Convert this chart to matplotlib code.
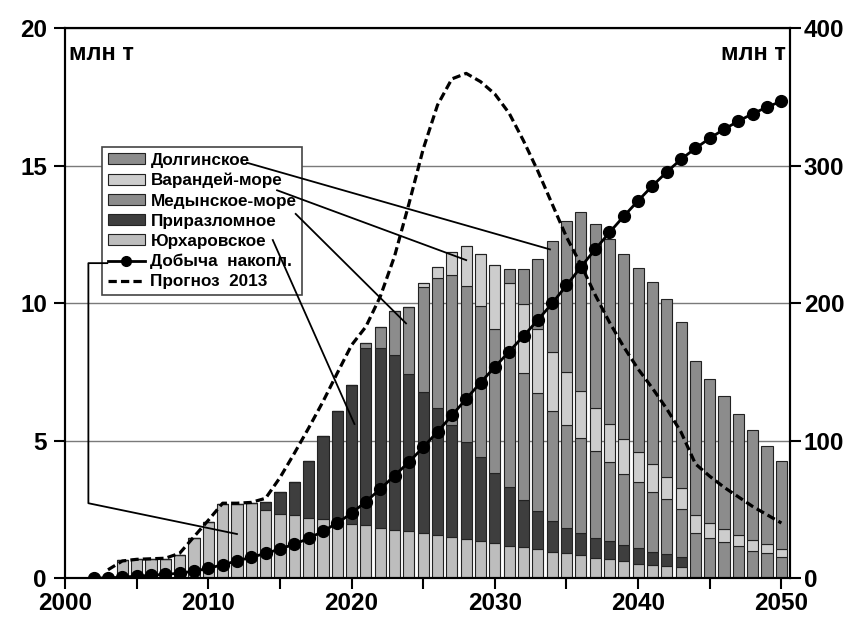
import matplotlib
matplotlib.use('Agg')
import matplotlib.pyplot as plt
from matplotlib.patches import Patch
from matplotlib.lines import Line2D
import numpy as np

plt.rcParams['font.family'] = ['Liberation Sans', 'DejaVu Sans']
plt.rcParams['font.weight'] = 'bold'

# годы со столбцами
years = list(range(2004, 2051))

# добыча по месторождениям, млн т (снизу вверх)
yurkh = [0.65, 0.68, 0.68, 0.68, 0.85, 1.44, 2.05, 2.69, 2.69, 2.72,
         2.47, 2.33, 2.29, 2.19, 2.15, 2.05, 1.97, 1.93, 1.83, 1.75,
         1.70, 1.62, 1.56, 1.48, 1.41, 1.36, 1.27, 1.17, 1.14, 1.05,
         0.96, 0.90, 0.82, 0.73, 0.68, 0.61, 0.52, 0.47, 0.44, 0.39,
         0, 0, 0, 0, 0, 0, 0]
prir = [0] * 10 + [
        0.31, 0.81, 1.21, 2.06, 3.01, 4.03, 5.05, 6.42, 6.54, 6.36,
        5.72, 5.13, 4.61, 4.08, 3.55, 3.03, 2.54, 2.15, 1.70, 1.40,
        1.12, 0.92, 0.83, 0.74, 0.67, 0.59, 0.56, 0.49, 0.42, 0.37,
        0, 0, 0, 0, 0, 0, 0]
medyn = [0] * 17 + [
         0.21, 0.75, 1.61, 2.45, 3.85, 4.73, 5.46, 5.66, 5.50, 5.23,
         4.79, 4.61, 4.27, 4.01, 3.74, 3.43, 3.16, 2.88, 2.58, 2.40,
         2.15, 2.00, 1.75, 1.62, 1.44, 1.30, 1.16, 0.98, 0.90, 0.78]
varand = [0] * 21 + [
          0.12, 0.42, 0.85, 1.45, 1.89, 2.34, 2.61, 2.52, 2.32, 2.14,
          1.92, 1.72, 1.54, 1.36, 1.28, 1.11, 1.02, 0.82, 0.78, 0.66,
          0.55, 0.48, 0.40, 0.40, 0.32, 0.26]
dolg = [0] * 27 + [
        0.52, 1.27, 2.56, 4.03, 5.52, 6.50, 6.70, 6.74, 6.72, 6.70,
        6.64, 6.46, 6.03, 5.62, 5.25, 4.85, 4.40, 4.00, 3.59, 3.21]

# накопленная добыча, млн т (правая ось)
cum_years = list(range(2002, 2051))
cum_prod = [0, 0, 0.7, 1.3, 2.0, 2.7, 3.5, 5.0, 7.0, 9.7, 12.4, 15.1,
            17.9, 21.1, 24.6, 28.8, 34.0, 40.0, 47.1, 55.6, 64.7, 74.5,
            84.3, 95.1, 106.4, 118.2, 130.3, 142.1, 153.5, 164.7, 176.0, 187.6,
            199.8, 212.8, 226.1, 239.0, 251.3, 263.1, 274.4, 285.2, 295.3, 304.6,
            312.5, 319.8, 326.4, 332.3, 337.7, 342.5, 346.8]

# прогноз 2013, млн т (левая ось)
fc_years = list(range(2003, 2051))
forecast = [0.30, 0.62, 0.68, 0.70, 0.72, 0.90, 1.50, 2.10, 2.72, 2.72,
            2.75, 2.90, 3.65, 4.53, 5.45, 6.41, 7.45, 8.47, 9.14, 10.23,
            11.70, 13.60, 15.60, 17.20, 18.15, 18.35, 18.05, 17.60, 16.90, 15.90,
            14.80, 13.60, 12.40, 11.40, 10.30, 9.30, 8.40, 7.60, 6.90, 6.15,
            5.30, 4.15, 3.70, 3.30, 2.95, 2.60, 2.30, 2.00]

names = ['Долгинское', 'Варандей-море', 'Медынское-море', 'Приразломное', 'Юрхаровское']
colors = {'Юрхаровское': '#bdbdbd', 'Приразломное': '#3e3e3e',
          'Медынское-море': '#8c8c8c', 'Варандей-море': '#cdcdcd',
          'Долгинское': '#8c8c8c'}

fig = plt.figure(figsize=(8.5, 6.21), dpi=100)
ax = fig.add_axes([0.0765, 0.0692, 0.8529, 0.8857])
ax2 = ax.twinx()

ax.set_axisbelow(True)
ax.grid(axis='y', color='#7a7a7a', linewidth=1.0)

stack = [('Юрхаровское', yurkh), ('Приразломное', prir), ('Медынское-море', medyn),
         ('Варандей-море', varand), ('Долгинское', dolg)]
bottom = np.zeros(len(years))
for name, vals in stack:
    vals = np.array(vals)
    ax.bar(years, vals, bottom=bottom, width=0.78, color=colors[name],
           edgecolor='#222222', linewidth=0.8, zorder=2)
    bottom += vals

ax.plot(fc_years, forecast, color='black', linewidth=2.3, dashes=(2.6, 1.3), zorder=4)
ax2.plot(cum_years, cum_prod, color='black', linewidth=2.0, marker='o',
         markersize=8.5, zorder=4)

ax.set_xlim(2000, 2050.6)
ax.set_ylim(0, 20)
ax2.set_ylim(0, 400)
ax.set_yticks([0, 5, 10, 15, 20])
ax2.set_yticks([0, 100, 200, 300, 400])
ax.set_xticks([2000, 2010, 2020, 2030, 2040, 2050])
ax.set_xticks(range(2005, 2050, 10), minor=True)

for a in (ax, ax2):
    for s in a.spines.values():
        s.set_linewidth(1.5)
ax.tick_params(axis='both', which='both', direction='out', length=8, width=1.5,
               labelsize=17.5)
ax.tick_params(axis='x', pad=2)
ax.tick_params(axis='y', pad=5)
ax2.tick_params(axis='y', direction='out', length=8, width=1.5, labelsize=17.5, pad=2)

ax.text(0.005, 0.975, 'млн т', transform=ax.transAxes, fontsize=17,
        fontweight='bold', ha='left', va='top')
ax.text(0.995, 0.975, 'млн т', transform=ax.transAxes, fontsize=17,
        fontweight='bold', ha='right', va='top')

handles = [Patch(facecolor=colors[n], edgecolor='#222222', linewidth=0.8) for n in names]
handles += [Line2D([], [], color='black', linewidth=2.0, marker='o', markersize=7),
            Line2D([], [], color='black', linewidth=2.3, dashes=(2.6, 1.3))]
labels = names + ['Добыча  накопл.', 'Прогноз  2013']
leg = ax2.legend(handles, labels, loc='upper left', bbox_to_anchor=(0.0506, 0.784),
                 borderaxespad=0, fancybox=False, framealpha=1, edgecolor='#444444',
                 prop={'family': ['Liberation Sans', 'DejaVu Sans'], 'weight': 'bold',
                       'size': 12.3},
                 handlelength=2.2, handleheight=0.6, handletextpad=0.3,
                 labelspacing=0.3, borderpad=0.35)
leg.get_frame().set_linewidth(1.2)

# линии-выноски от легенды к столбцам
leaders = [
    ([2012.7, 2033.85], [15.1, 11.95]),
    ([2014.8, 2028.0], [14.1, 11.56]),
    ([2016.1, 2023.8], [13.24, 9.26]),
    ([2014.5, 2020.2], [12.29, 5.6]),
    ([2002.95, 2001.63, 2001.63, 2012.0], [11.45, 11.45, 2.72, 1.6]),
]
for xs, ys in leaders:
    ax2.plot(xs, ys, color='black', linewidth=1.3, transform=ax.transData,
             clip_on=False, zorder=6)
ax2.set_ylim(0, 400)
ax.set_xlim(2000, 2050.6)

fig.savefig('out.png', dpi=100)
